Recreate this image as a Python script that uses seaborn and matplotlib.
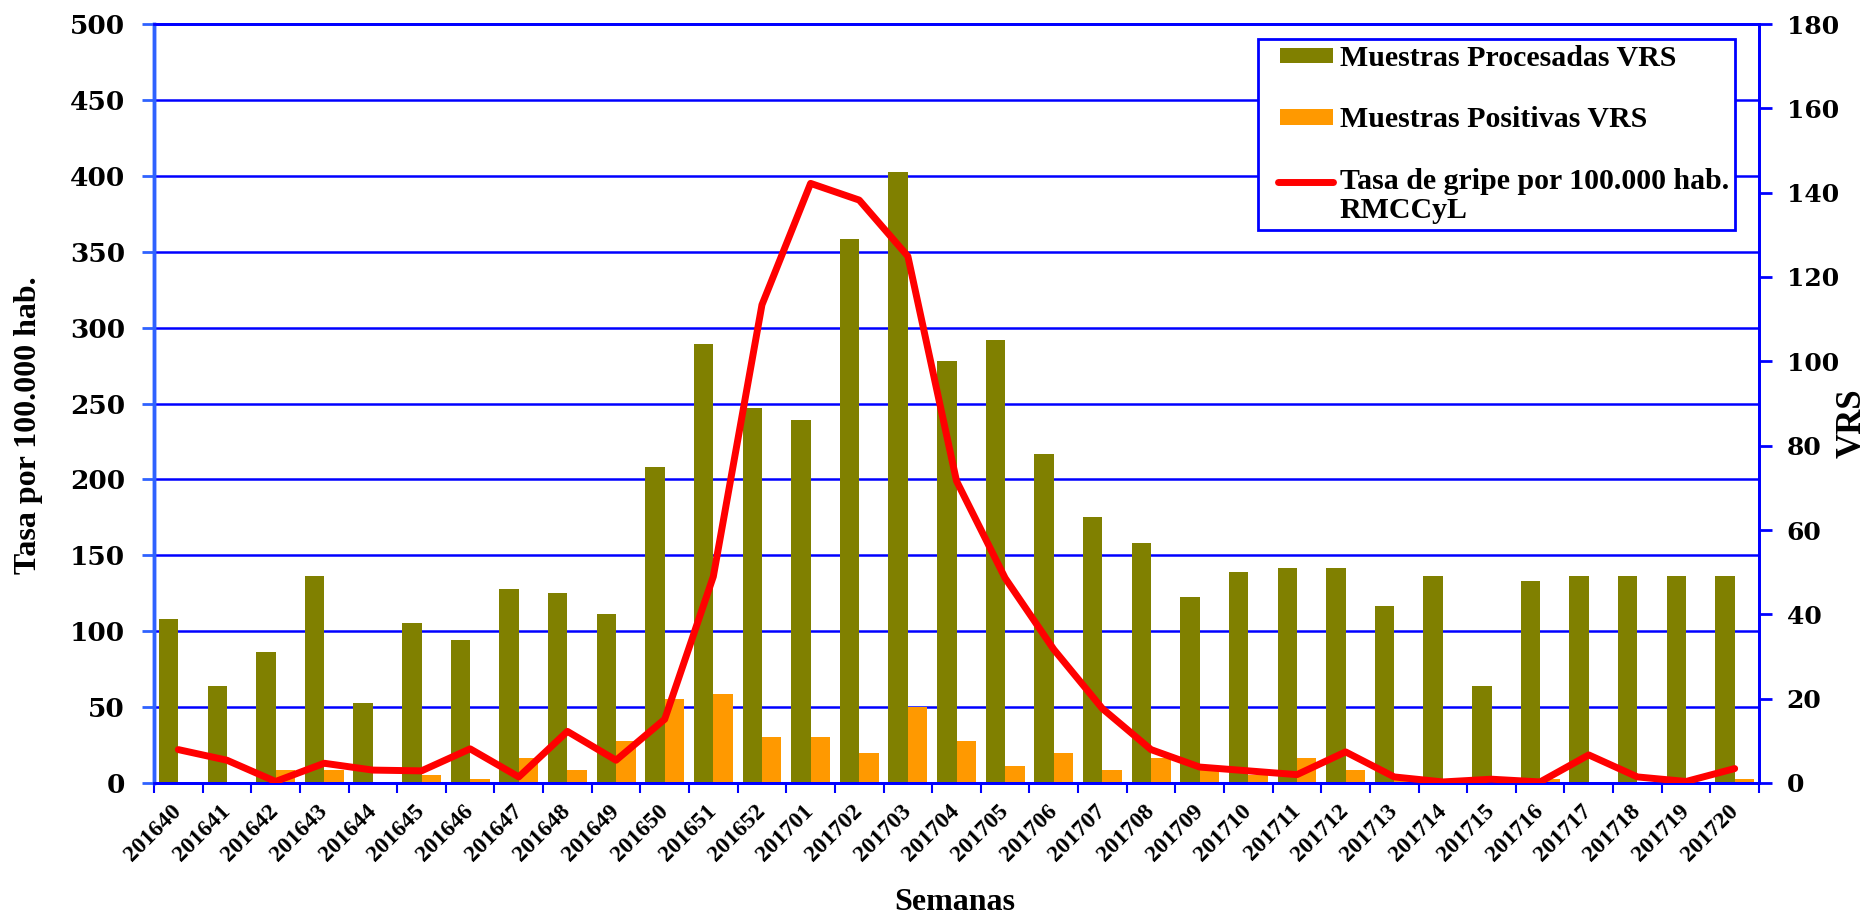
import numpy as np
import pandas as pd
import matplotlib
matplotlib.use("Agg")
import matplotlib.pyplot as plt
import seaborn as sns
from matplotlib.patches import Patch, Rectangle
from matplotlib.lines import Line2D
from matplotlib.legend_handler import HandlerPatch, HandlerLine2D

# ---------------- data ----------------
semanas = ["201640", "201641", "201642", "201643", "201644", "201645", "201646",
           "201647", "201648", "201649", "201650", "201651", "201652", "201701",
           "201702", "201703", "201704", "201705", "201706", "201707", "201708",
           "201709", "201710", "201711", "201712", "201713", "201714", "201715",
           "201716", "201717", "201718", "201719", "201720"]
procesadas = [39, 23, 31, 49, 19, 38, 34, 46, 45, 40, 75, 104, 89, 86,
              129, 145, 100, 105, 78, 63, 57, 44, 50, 51, 51, 42, 49, 23,
              48, 49, 49, 49, 49]
positivas = [0, 0, 3, 3, 0, 2, 1, 6, 3, 10, 20, 21, 11, 11,
             7, 18, 10, 4, 7, 3, 6, 3, 2, 6, 3, 1, 0, 0,
             1, 0, 0, 0, 1]
tasa = [22, 15, 1, 13, 8.5, 8, 22.5, 4, 34, 15, 42, 136, 315, 395,
        384, 347, 199, 135, 88, 49, 22, 10.5, 8, 5.5, 20.5, 4, 0.7, 2.5,
        0.7, 18.5, 4, 1, 9.5]
serie_proc = "Muestras Procesadas VRS"
serie_pos = "Muestras Positivas VRS"
serie_tasa = "Tasa de gripe por 100.000 hab.\nRMCCyL"

# ---------------- styling ----------------
OLIVE = "#808000"
ORANGE = "#FF9900"
RED = "#FF0000"
BLUE = "#0000FF"
LBLUE = "#2F62FF"
SERIF = ["Liberation Serif", "DejaVu Serif"]
NUMF = ["DejaVu Serif"]

plt.rcParams["font.family"] = SERIF
plt.rcParams["font.weight"] = "bold"

bars_df = pd.DataFrame({
    "semana": semanas * 2,
    "valor": procesadas + positivas,
    "serie": [serie_proc] * len(semanas) + [serie_pos] * len(semanas),
})
line_df = pd.DataFrame({"pos": np.arange(len(semanas)), "tasa": tasa})

W, H = 1867, 916
fig = plt.figure(figsize=(W / 100, H / 100), dpi=100)
L, R, T, B = 154, 1759, 24, 783
ax = fig.add_axes([L / W, 1 - B / H, (R - L) / W, (B - T) / H])

sns.barplot(data=bars_df, x="semana", y="valor", hue="serie",
            order=semanas, hue_order=[serie_proc, serie_pos],
            palette=[OLIVE, ORANGE], width=0.8, dodge=True,
            saturation=1, linewidth=0, ax=ax, legend=False, zorder=2)

ax2 = ax.twinx()
sns.lineplot(data=line_df, x="pos", y="tasa", color=RED, linewidth=5,
             ax=ax2, legend=False, solid_capstyle="round", zorder=3)

# right axis (VRS, bars)
ax.set_xlim(-0.5, len(semanas) - 0.5)
ax.set_ylim(0, 180)
ax.yaxis.tick_right()
ax.yaxis.set_label_position("right")
ax.set_yticks(np.arange(0, 181, 20))
ax.set_yticks(np.arange(0, 181, 18), minor=True)
ax.tick_params(axis="y", which="minor", length=0, right=False, left=False)
ax.tick_params(axis="y", which="major", length=9, width=2, color=BLUE,
               direction="out", pad=11, labelsize=18, right=True, left=False)
for lab in ax.get_yticklabels():
    lab.set_fontfamily(NUMF)
    lab.set_fontweight("bold")
ax.grid(axis="y", which="minor", color=BLUE, linewidth=1.8)
ax.grid(axis="y", which="major", visible=False)
ax.grid(axis="x", visible=False)
ax.set_axisbelow(True)
ax.set_ylabel("VRS", fontsize=25, fontweight="bold", rotation=90,
              va="center", ha="center")
ax.yaxis.set_label_coords(1.058, 0.474)

# x axis
ax.set_xticks(np.arange(len(semanas)))
ax.set_xticklabels(semanas, rotation=45, ha="right", va="center",
                   rotation_mode="anchor", fontsize=17, fontweight="bold")
ax.set_xticks(np.arange(-0.5, len(semanas), 1), minor=True)
ax.tick_params(axis="x", which="major", length=0, pad=18)
ax.tick_params(axis="x", which="minor", length=7, width=1.5, color=BLUE,
               direction="out")
ax.set_xlabel("Semanas", fontsize=23, fontweight="bold", va="center")
ax.xaxis.set_label_coords(0.499, -0.157)

# left axis (tasa, line)
ax2.set_ylim(0, 500)
ax2.yaxis.tick_left()
ax2.yaxis.set_label_position("left")
ax2.set_yticks(np.arange(0, 501, 50))
ax2.tick_params(axis="y", length=9, width=2, color=LBLUE, direction="out",
                pad=12, labelsize=19, left=True, right=False)
for lab in ax2.get_yticklabels():
    lab.set_fontfamily(NUMF)
    lab.set_fontweight("bold")
ax2.set_ylabel("Tasa por 100.000 hab.", fontsize=23, fontweight="bold",
               va="center", ha="center")
ax2.yaxis.set_label_coords(-0.078, 0.472)
ax2.set_xlabel("")
ax2.grid(False)

for a in (ax, ax2):
    for name, sp in a.spines.items():
        sp.set_color(BLUE)
        sp.set_linewidth(2)
    a.spines["left"].set_color(LBLUE)
    a.spines["left"].set_linewidth(2.5)


# legend handlers: handle drawn in right part of a wider handle box
def right_rect(legend, orig_handle, xdescent, ydescent, width, height, fontsize):
    w = 0.78 * width
    h = 0.52 * fontsize
    return Rectangle((-xdescent + width - w, -ydescent + (height - h) / 2),
                     w, h)


class RightLine(HandlerLine2D):
    def create_artists(self, legend, orig_handle, xdescent, ydescent,
                       width, height, fontsize, trans):
        x0 = -xdescent + 0.2 * width
        x1 = -xdescent + width
        y = -ydescent + height / 2 + 0.47 * fontsize
        ln = Line2D([x0, x1], [y, y])
        self.update_prop(ln, orig_handle, legend)
        ln.set_transform(trans)
        return [ln]


handles = [Patch(facecolor=OLIVE, edgecolor="none"),
           Patch(facecolor=ORANGE, edgecolor="none"),
           Line2D([0], [0], color=RED, linewidth=5, solid_capstyle="round")]
leg = ax2.legend(handles, [serie_proc, serie_pos, serie_tasa],
                 handler_map={Patch: HandlerPatch(patch_func=right_rect),
                              Line2D: RightLine()},
                 loc="upper right", bbox_to_anchor=(0.985, 0.980),
                 frameon=True, fancybox=False, framealpha=1,
                 edgecolor=BLUE, facecolor="white",
                 prop={"family": SERIF, "weight": "bold", "size": 21.5},
                 handlelength=2.3, handleheight=0.6, handletextpad=0.22,
                 labelspacing=1.15, borderpad=0.2, borderaxespad=0)
leg.get_frame().set_linewidth(2)
for t in leg.get_texts():
    t.set_linespacing(1.1)

fig.savefig("out.png", dpi=100, facecolor="white")
